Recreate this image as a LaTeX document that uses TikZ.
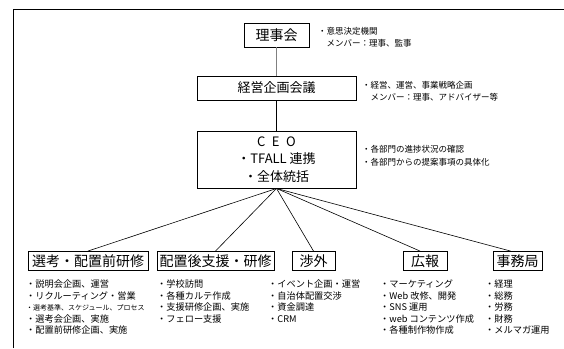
\documentclass[tikz,border=0pt]{standalone}
\usepackage{fontspec}
\setmainfont{Noto Sans CJK JP}
\begin{document}
\begin{tikzpicture}[x=1pt,y=-1pt,
  box/.style={draw=black, line width=0.9pt, inner sep=0pt, font=\fontsize{14}{16}\selectfont},
  note/.style={anchor=base west, inner sep=0pt, font=\fontsize{8.5}{10}\selectfont},
  item/.style={anchor=base west, inner sep=0pt, font=\fontsize{9.2}{11}\selectfont},
  link/.style={draw=black, line width=0.6pt},
  frame/.style={draw=black, line width=1.6pt}]
\useasboundingbox (0,0) rectangle (564,348);
\draw[frame] (13.5,348) -- (13.5,9.5) -- (564,9.5);

% top boxes
\node[box, minimum width=65pt, minimum height=24pt] (r) at (276.5,35) {理事会};
\node[box, minimum width=159pt, minimum height=24pt, font=\fontsize{13}{15}\selectfont] (k) at (276.5,88) {経営企画会議};
\node[box, minimum width=159pt, minimum height=57pt, align=center, font=\fontsize{13}{17.5}\selectfont] (ceo) at (276.5,159.5) {C\hspace{0.5em}E\hspace{0.5em}O\\・TFALL 連携\\・全体統括};

\draw[gray, line width=1.5pt] (r.south) -- (k.north);
\draw[link, line width=0.8pt] (k.south) -- (ceo.north);

% notes
\node[note] (n1) at (318,34) {・意思決定機関};
\node[note] (n2) at (326.5,46) {メンバー：理事、監事};
\node[note] (n3) at (362,88) {・経営、運営、事業戦略企画};
\node[note] (n4) at (370.5,100) {メンバー：理事、アドバイザー等};
\node[note] (n5) at (362,152) {・各部門の進捗状況の確認};
\node[note] (n6) at (362,165) {・各部門からの提案事項の具体化};

% department boxes
\node[box, minimum width=120pt, minimum height=19pt] (s1) at (88,261) {選考・配置前研修};
\node[box, minimum width=117pt, minimum height=19pt] (s2) at (215.5,261) {配置後支援・研修};
\node[box, minimum width=43pt, minimum height=19pt] (s3) at (313.5,261) {渉外};
\node[box, minimum width=44pt, minimum height=19pt] (s4) at (425,261) {広報};
\node[box, minimum width=49pt, minimum height=19pt] (s5) at (517.5,261) {事務局};

\draw[link] (ceo.south) -- (s1.north);
\draw[link] (ceo.south) -- (s2.north);
\draw[link] (ceo.south) -- (s3.north);
\draw[link] (ceo.south) -- ([xshift=-5pt]s4.north);
\draw[link] (ceo.south) -- ([xshift=-7pt]s5.north);

% lists
\foreach \t [count=\i] in {・説明会企画、運営, ・リクルーティング・営業, {\fontsize{7}{8}\selectfont ・選考基準、スケジュール、プロセス}, ・選考会企画、実施, ・配置前研修企画、実施}
  \node[item] (a\i) at (26,287.5+11.5*\i-11.5) {\t};
\foreach \t [count=\i] in {・学校訪問, ・各種カルテ作成, ・支援研修企画、実施, ・フェロー支援}
  \node[item] (b\i) at (157,287.5+11.5*\i-11.5) {\t};
\foreach \t [count=\i] in {・イベント企画・運営, ・自治体配置交渉, ・資金調達, ・CRM}
  \node[item] (c\i) at (268,287.5+11.5*\i-11.5) {\t};
\foreach \t [count=\i] in {・マーケティング, ・Web 改修、開発, ・SNS 運用, ・web コンテンツ作成, ・各種制作物作成}
  \node[item] (d\i) at (380,287.5+11.5*\i-11.5) {\t};
\foreach \t [count=\i] in {・経理, ・総務, ・労務, ・財務, ・メルマガ運用}
  \node[item] (e\i) at (485,287.5+11.5*\i-11.5) {\t};
\end{tikzpicture}
\end{document}
